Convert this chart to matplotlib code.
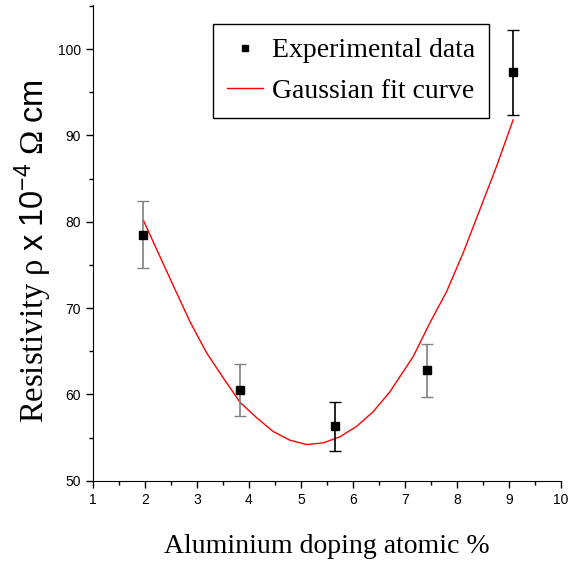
import matplotlib
matplotlib.use("Agg")
import matplotlib.pyplot as plt
from matplotlib.ticker import MultipleLocator

# experimental points
doping = [1.96, 3.83, 5.65, 7.42, 9.08]
resistivity = [78.5, 60.5, 56.3, 62.8, 97.3]
error = [3.9, 3.0, 2.8, 3.1, 4.9]
err_color = ['gray', 'gray', 'black', 'gray', 'black']

# gaussian fit curve
fit_x = [1.97, 2.22, 2.54, 2.87, 3.19, 3.51, 3.83, 4.15, 4.47, 4.79, 5.11,
         5.43, 5.75, 6.07, 6.39, 6.71, 7.16, 7.48, 7.80, 8.12, 8.44, 8.76, 9.08]
fit_y = [80.2, 76.9, 72.7, 68.4, 64.8, 61.9, 59.1, 57.3, 55.7, 54.7, 54.2,
         54.4, 55.1, 56.3, 58.0, 60.3, 64.4, 68.3, 71.9, 76.4, 81.4, 86.4, 91.8]

plt.rcParams['mathtext.fontset'] = 'custom'
plt.rcParams['mathtext.rm'] = 'Liberation Serif'
plt.rcParams['mathtext.sf'] = 'Liberation Sans'
plt.rcParams['mathtext.it'] = 'Liberation Serif:italic'

fig = plt.figure(figsize=(5.73, 5.67), dpi=100)
ax = fig.add_axes([0.162, 0.152, 0.817, 0.839])

fit_line, = ax.plot(fit_x, fit_y, color='red', lw=1, label='Gaussian fit curve')
for xi, yi, ei, c in zip(doping, resistivity, error, err_color):
    ax.errorbar(xi, yi, yerr=ei, fmt='none', ecolor=c, elinewidth=1.2,
                capsize=4, capthick=1)
pts, = ax.plot(doping, resistivity, 's', color='black', ms=6,
               label='Experimental data', zorder=5)

ax.set_xlim(1, 10)
ax.set_ylim(50, 105.1)
ax.xaxis.set_major_locator(MultipleLocator(1))
ax.xaxis.set_minor_locator(MultipleLocator(0.5))
ax.yaxis.set_major_locator(MultipleLocator(10))
ax.yaxis.set_minor_locator(MultipleLocator(5))
ax.tick_params(which='major', direction='out', length=5, width=1,
               labelsize=10)
ax.tick_params(which='minor', direction='out', length=3, width=1)
for lab in ax.get_xticklabels() + ax.get_yticklabels():
    lab.set_family('Liberation Sans')
ax.spines['top'].set_visible(False)
ax.spines['right'].set_visible(False)

ax.set_xlabel('Aluminium doping atomic %', family='Liberation Serif',
              fontsize=20, labelpad=20)
ax.set_ylabel(r'Resistivity ρ $\mathsf{x\ 10^{-4}}$ Ω $\mathsf{cm}$',
              family='Liberation Serif', fontsize=23.5)
ax.yaxis.set_label_coords(-0.083, 0.483)

leg = ax.legend(handles=[pts, fit_line], loc='upper right',
                bbox_to_anchor=(0.846, 0.96), borderaxespad=0,
                fancybox=False, edgecolor='black', framealpha=1,
                handlelength=1.3, handletextpad=0.3, markerscale=0.8,
                labelspacing=0.55, borderpad=0.5,
                prop={'family': 'Liberation Serif', 'size': 20})
leg.get_frame().set_linewidth(1)

fig.savefig('out.png', dpi=100)
